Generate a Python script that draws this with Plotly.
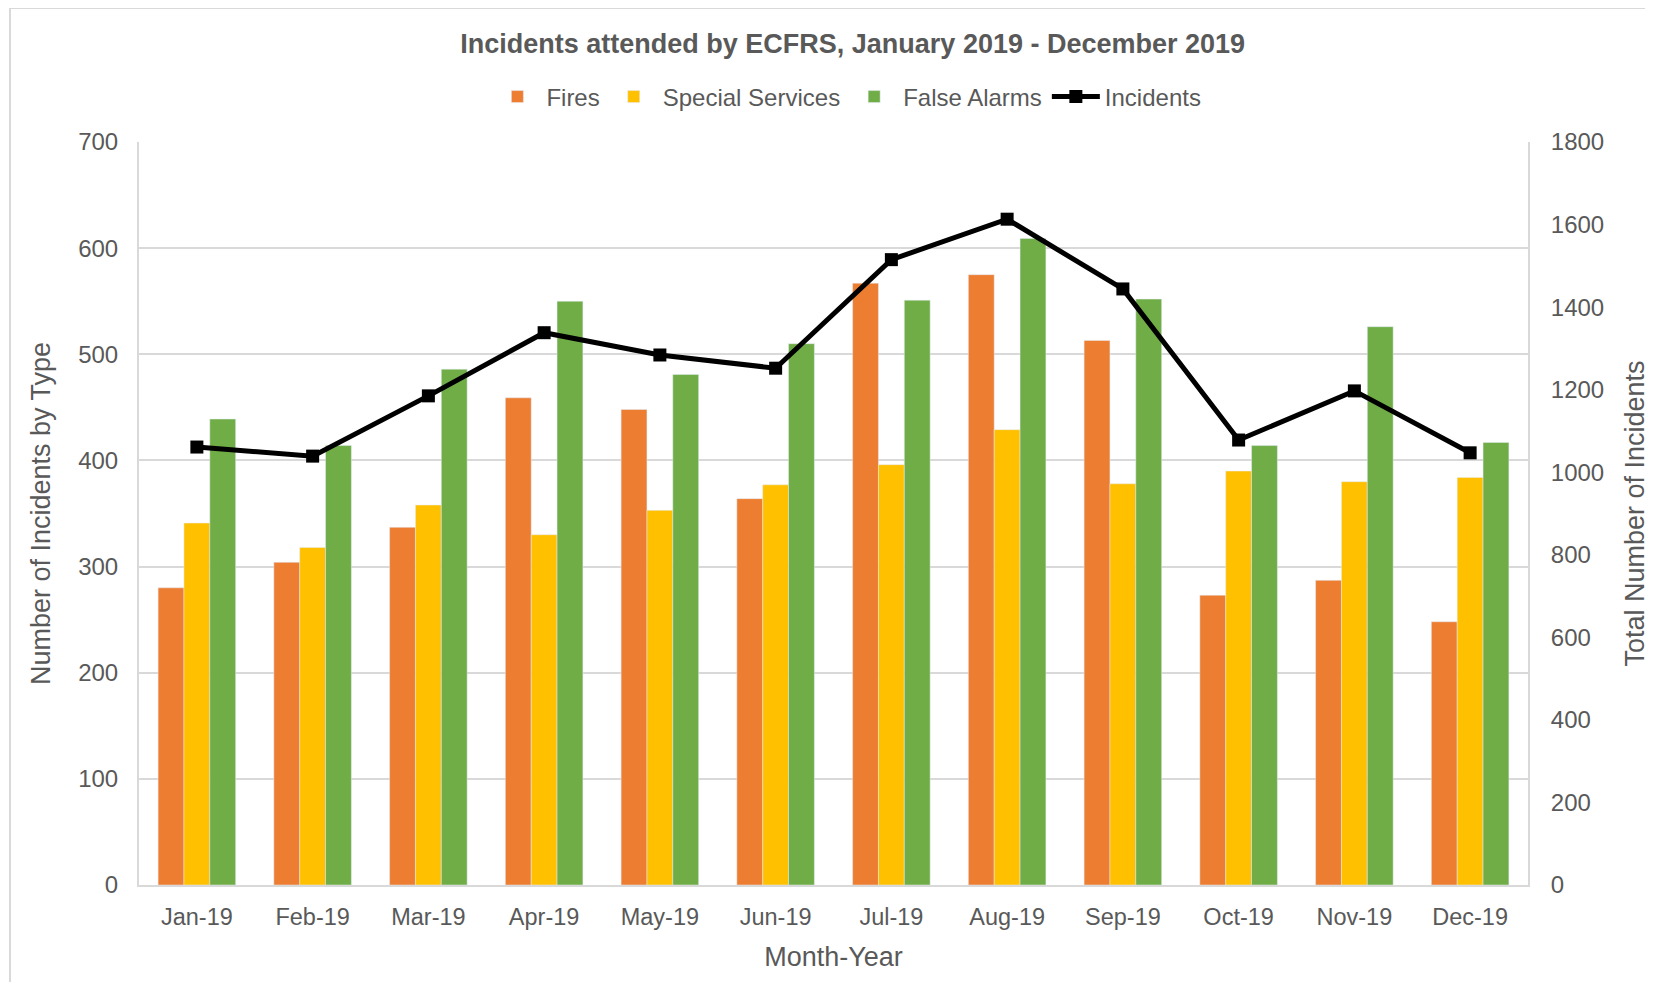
import plotly.graph_objects as go

months = ['Jan-19', 'Feb-19', 'Mar-19', 'Apr-19', 'May-19', 'Jun-19',
          'Jul-19', 'Aug-19', 'Sep-19', 'Oct-19', 'Nov-19', 'Dec-19']
fires = [280, 304, 337, 459, 448, 364, 567, 575, 513, 273, 287, 248]
special_services = [341, 318, 358, 330, 353, 377, 396, 429, 378, 390, 380, 384]
false_alarms = [439, 414, 486, 550, 481, 510, 551, 609, 552, 414, 526, 417]
incidents = [1061, 1039, 1185, 1338, 1284, 1252, 1515, 1613, 1444, 1078, 1197, 1047]

grey_text = '#595959'
grid_grey = '#D9D9D9'
font_name = 'Liberation Sans, Arial, sans-serif'

fig = go.Figure()
fig.add_trace(go.Bar(x=months, y=fires, name='Fires', marker_color='#ED7D31'))
fig.add_trace(go.Bar(x=months, y=special_services, name='Special Services', marker_color='#FFC000'))
fig.add_trace(go.Bar(x=months, y=false_alarms, name='False Alarms', marker_color='#70AD47'))
fig.add_trace(go.Scatter(x=months, y=incidents, name='Incidents', yaxis='y2',
                         mode='lines+markers',
                         line=dict(color='black', width=5),
                         marker=dict(symbol='square', size=13, color='black')))

# page has an 8px body margin, so margins are shifted to compensate
fig.update_layout(
    width=1653, height=982,
    margin=dict(l=131, r=133, t=134, b=105, autoexpand=False),
    paper_bgcolor='white', plot_bgcolor='white',
    font=dict(family=font_name, color=grey_text, size=24),
    barmode='group', bargap=0.33, bargroupgap=0,
    title=dict(text='<b>Incidents attended by ECFRS, January 2019 - December 2019</b>',
               x=0.511, xanchor='center', y=1 - 36 / 982, yanchor='middle',
               font=dict(size=27, color=grey_text)),
    legend=dict(orientation='h', x=0.51, xanchor='center', y=1 + 45 / 743, yanchor='middle',
                font=dict(size=24, color=grey_text), traceorder='normal',
                itemwidth=48, bgcolor='rgba(0,0,0,0)'),
    xaxis=dict(type='category', range=[-0.5, len(months) - 0.5],
               showline=True, linecolor=grid_grey, linewidth=2, ticks='',
               ticklabelstandoff=10, tickfont=dict(size=23.5),
               title=dict(text='Month-Year', font=dict(size=27), standoff=18)),
    yaxis=dict(range=[0, 700], dtick=100, showgrid=True, gridcolor=grid_grey, gridwidth=1.5,
               showline=True, linecolor=grid_grey, linewidth=2, zeroline=False,
               ticks='', ticklabelstandoff=14, tickfont=dict(size=24),
               title=dict(text='Number of Incidents by Type', font=dict(size=27), standoff=20)),
    yaxis2=dict(range=[0, 1800], dtick=200, overlaying='y', side='right', showgrid=False,
                showline=True, linecolor=grid_grey, linewidth=2, zeroline=False,
                ticks='', ticklabelstandoff=16, tickfont=dict(size=24),
                title=dict(text='Total Number of Incidents', font=dict(size=27), standoff=22)),
    shapes=[dict(type='rect', xref='paper', yref='paper',
                 x0=-129 / 1389, x1=1.3, y0=-0.3, y1=1 + 134 / 743,
                 line=dict(color=grid_grey, width=2), fillcolor='rgba(0,0,0,0)', layer='below')],
)

fig.write_html('out.html')
